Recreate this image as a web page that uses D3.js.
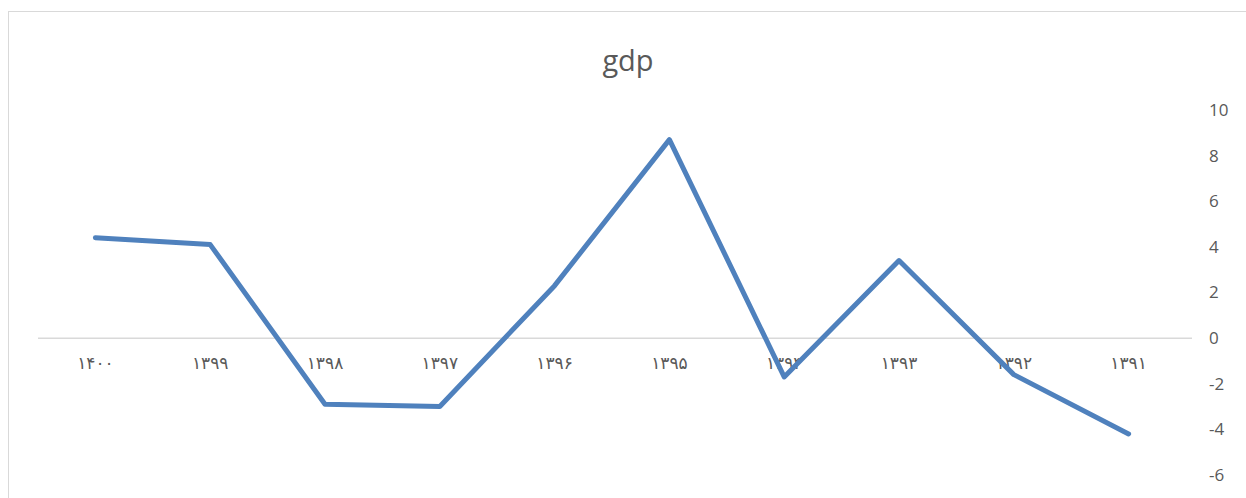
<!DOCTYPE html>
<html>
<head>
<meta charset="utf-8">
<script src="https://cdn.jsdelivr.net/npm/d3@7"></script>
<style>
  html, body { margin: 0; padding: 0; background: #ffffff; }
  svg { display: block; }
</style>
</head>
<body>
<svg id="chart" width="1246" height="498"></svg>
<script>
// Years (Solar Hijri), most recent first, as labelled on the axis
const years = ["۱۴۰۰", "۱۳۹۹", "۱۳۹۸", "۱۳۹۷", "۱۳۹۶", "۱۳۹۵", "۱۳۹۴", "۱۳۹۳", "۱۳۹۲", "۱۳۹۱"];
// GDP growth (%) per year
const gdp = [4.4, 4.1, -2.9, -3.0, 2.3, 8.7, -1.7, 3.4, -1.6, -4.2];
// Value axis ticks
const yTicks = [10, 8, 6, 4, 2, 0, -2, -4, -6];
const title = "gdp";

const svg = d3.select("#chart");
const W = 1246, H = 498;

// Chart frame (extends past the right and bottom edges)
svg.append("rect")
  .attr("x", 8.5).attr("y", 11.5)
  .attr("width", W + 10).attr("height", H + 10)
  .attr("fill", "#ffffff")
  .attr("stroke", "#d9d9d9").attr("stroke-width", 1);

const plotLeft = 38, plotRight = 1186;

const x = d3.scaleBand().domain(years).range([plotLeft, plotRight]);
const y = d3.scaleLinear().domain([-6, 10]).range([475, 110]);

// Title
svg.append("text")
  .attr("x", 628).attr("y", 71)
  .attr("text-anchor", "middle")
  .attr("font-family", "'Open Sans', 'Liberation Sans', sans-serif")
  .attr("font-size", 29)
  .attr("fill", "#595959")
  .text(title);

// Zero baseline
svg.append("line")
  .attr("x1", plotLeft).attr("x2", 1192)
  .attr("y1", y(0)).attr("y2", y(0))
  .attr("stroke", "#d9d9d9").attr("stroke-width", 1.5);

// Right value axis (plain hyphen for negatives)
const yAxis = svg.append("g")
  .attr("transform", "translate(1209,0)")
  .call(d3.axisRight(y).tickValues(yTicks).tickSize(0).tickPadding(0).tickFormat(d => String(d)));
yAxis.select(".domain").remove();
yAxis.selectAll("text")
  .attr("font-family", "'Open Sans', 'Liberation Sans', sans-serif")
  .attr("font-size", 17)
  .attr("fill", "#595959");

// Category axis labels along the zero line
const xAxis = svg.append("g")
  .attr("transform", `translate(0,${y(0)})`)
  .call(d3.axisBottom(x).tickSize(0).tickPadding(19));
xAxis.select(".domain").remove();
xAxis.selectAll("text")
  .attr("font-family", "'DejaVu Sans', sans-serif")
  .attr("font-size", 17)
  .attr("letter-spacing", "4px")
  .attr("fill", "#595959");

// GDP line
const line = d3.line()
  .x((d, i) => x(years[i]) + x.bandwidth() / 2)
  .y(d => y(d));

svg.append("path")
  .datum(gdp)
  .attr("d", line)
  .attr("fill", "none")
  .attr("stroke", "#4f81bd")
  .attr("stroke-width", 5)
  .attr("stroke-linejoin", "round")
  .attr("stroke-linecap", "round");
</script>
</body>
</html>
